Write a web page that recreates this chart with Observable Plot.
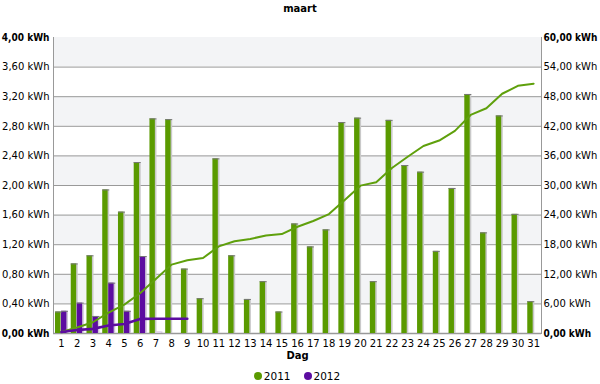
<!DOCTYPE html>
<html>
<head>
<meta charset="utf-8">
<script src="https://cdn.jsdelivr.net/npm/d3@7"></script>
<script src="https://cdn.jsdelivr.net/npm/@observablehq/plot@0.6"></script>
<style>
  html, body { margin: 0; padding: 0; background: #fff; }
  body { width: 600px; height: 384px; overflow: hidden; font-family: "DejaVu Sans", Verdana, sans-serif; }
  #title { height: 17px; line-height: 17px; text-align: center; font-weight: bold; font-size: 10px; }
  #legend { height: 17px; display: flex; justify-content: center; align-items: center; font-size: 10.5px; gap: 13px; padding-right: 6px; }
  #legend span.item { display: flex; align-items: center; gap: 2px; }
  #legend span.dot { width: 8px; height: 8px; border-radius: 50%; display: inline-block; }
</style>
</head>
<body>
<div id="title">maart</div>
<div id="chart"></div>
<div id="legend"></div>
<script>
// ---- data ----
const days = [1,2,3,4,5,6,7,8,9,10,11,12,13,14,15,16,17,18,19,20,21,22,23,24,25,26,27,28,29,30,31];
const kwh2011 = [0.29,0.94,1.05,1.94,1.64,2.31,2.90,2.89,0.87,0.47,2.36,1.05,0.46,0.70,0.29,1.48,1.17,1.40,2.85,2.91,0.70,2.88,2.27,2.18,1.11,1.96,3.23,1.36,2.94,1.61,0.43];
const cum2011 = [0.29,1.23,2.28,4.22,5.86,8.17,11.07,13.96,14.83,15.30,17.66,18.71,19.17,19.87,20.16,21.64,22.81,24.21,27.06,29.97,30.67,33.55,35.82,38.00,39.11,41.07,44.30,45.66,48.60,50.21,50.64];
const days2012 = [1,2,3,4,5,6,7];
const kwh2012 = [0.30,0.41,0.23,0.68,0.30,1.04,0.02];
const cumDays2012 = [1,2,3,4,5,6,7,8,9];
const cum2012 = [0.30,0.71,0.94,1.62,1.92,2.96,2.98,2.98,2.98];
const leftTicks = [0,0.4,0.8,1.2,1.6,2.0,2.4,2.8,3.2,3.6,4.0];
const leftLabels = ["0,00 kWh","0,40 kWh","0,80 kWh","1,20 kWh","1,60 kWh","2,00 kWh","2,40 kWh","2,80 kWh","3,20 kWh","3,60 kWh","4,00 kWh"];
const rightLabels = ["0,00 kWh","6,00 kWh","12,00 kWh","18,00 kWh","24,00 kWh","30,00 kWh","36,00 kWh","42,00 kWh","48,00 kWh","54,00 kWh","60,00 kWh"];
const rightMax = 60, leftMax = 4;
const series = ["2011","2012"];
const colors = ["#5a9a00","#5c0ca0"];

// ---- build tables ----
const bars2011 = days.map((d,i) => ({day: d, v: kwh2011[i]}));
const bars2012 = days2012.map((d,i) => ({day: d, v: kwh2012[i]}));
const line2011 = days.map((d,i) => ({day: d, v: cum2011[i] * leftMax / rightMax}));
const line2012 = cumDays2012.map((d,i) => ({day: d, v: cum2012[i] * leftMax / rightMax}));
const bands = [0.4,1.2,2.0,2.8,3.6].map(s => ({y1: s, y2: s + 0.4}));
const inner = leftTicks.filter(t => t > 0 && t < 4);
const labelOf = (arr) => (t) => arr[leftTicks.indexOf(t)];

const bw = 488 / 31;
const gL = 2, gR = bw - 8, pL = 8, pR = bw - 14;
const boldFont = "DejaVu Sans Condensed, DejaVu Sans, sans-serif";

const chart = Plot.plot({
  width: 600,
  height: 350,
  marginTop: 20,
  marginBottom: 34,
  marginLeft: 53,
  marginRight: 59,
  style: {fontFamily: "DejaVu Sans, Verdana, sans-serif", fontSize: "10px", color: "#000", background: "#fff", overflow: "visible"},
  x: {type: "band", domain: days, padding: 0, round: false, axis: null},
  y: {domain: [0, 4], axis: null},
  marks: [
    Plot.rectY(bands, {y1: "y1", y2: "y2", fill: "#f3f4f6"}),
    Plot.ruleY(inner, {stroke: "#999", strokeWidth: 1}),
    Plot.ruleY([0], {stroke: "#999", strokeWidth: 1.5}),
    Plot.frame({anchor: "left", stroke: "#999"}),
    Plot.frame({anchor: "right", stroke: "#999"}),
    // shadows
    Plot.barY(bars2011, {x: "day", y: "v", fill: "#c9c9c9", insetLeft: gL + 1, insetRight: gR - 1}),
    Plot.barY(bars2012, {x: "day", y: "v", fill: "#cfc6d8", insetLeft: pL + 1, insetRight: pR - 1}),
    // bars
    Plot.barY(bars2011, {x: "day", y: "v", fill: colors[0], insetLeft: gL, insetRight: gR + 0.6}),
    Plot.barY(bars2012, {x: "day", y: "v", fill: d => d.v < 0.05 ? "#ddd0e8" : colors[1], insetLeft: pL, insetRight: pR + 0.6}),
    Plot.tickY(bars2011, {x: "day", y: "v", stroke: "#777", insetLeft: gL, insetRight: gR - 1}),
    Plot.tickY(bars2012.filter(d => d.v >= 0.05), {x: "day", y: "v", stroke: "#777", insetLeft: pL, insetRight: pR - 1}),
    // cumulative lines
    Plot.line(line2011, {x: "day", y: "v", stroke: "#5fa00c", strokeWidth: 2}),
    Plot.line(line2012, {x: "day", y: "v", stroke: "#5c0ca0", strokeWidth: 2.6}),
    // axes
    Plot.axisY(inner, {anchor: "left", tickSize: 0, tickPadding: 4, tickFormat: labelOf(leftLabels), label: null}),
    Plot.axisY([0, 4], {anchor: "left", tickSize: 0, tickPadding: 4, tickFormat: labelOf(leftLabels), fontWeight: "bold", fontFamily: boldFont, label: null}),
    Plot.axisY(inner, {anchor: "right", tickSize: 0, tickPadding: 2, tickFormat: labelOf(rightLabels), label: null}),
    Plot.axisY([0, 4], {anchor: "right", tickSize: 0, tickPadding: 2, tickFormat: labelOf(rightLabels), fontWeight: "bold", fontFamily: boldFont, label: null}),
    Plot.axisX(days, {anchor: "bottom", tickSize: 0, tickPadding: 6, label: null}),
    Plot.text(["Dag"], {frameAnchor: "bottom", dy: 25, fontWeight: "bold"})
  ]
});
document.getElementById("chart").appendChild(chart);

const legend = document.getElementById("legend");
series.forEach((s, i) => {
  const item = document.createElement("span");
  item.className = "item";
  const dot = document.createElement("span");
  dot.className = "dot";
  dot.style.background = colors[i];
  item.appendChild(dot);
  item.appendChild(document.createTextNode(s));
  legend.appendChild(item);
});
</script>
</body>
</html>
